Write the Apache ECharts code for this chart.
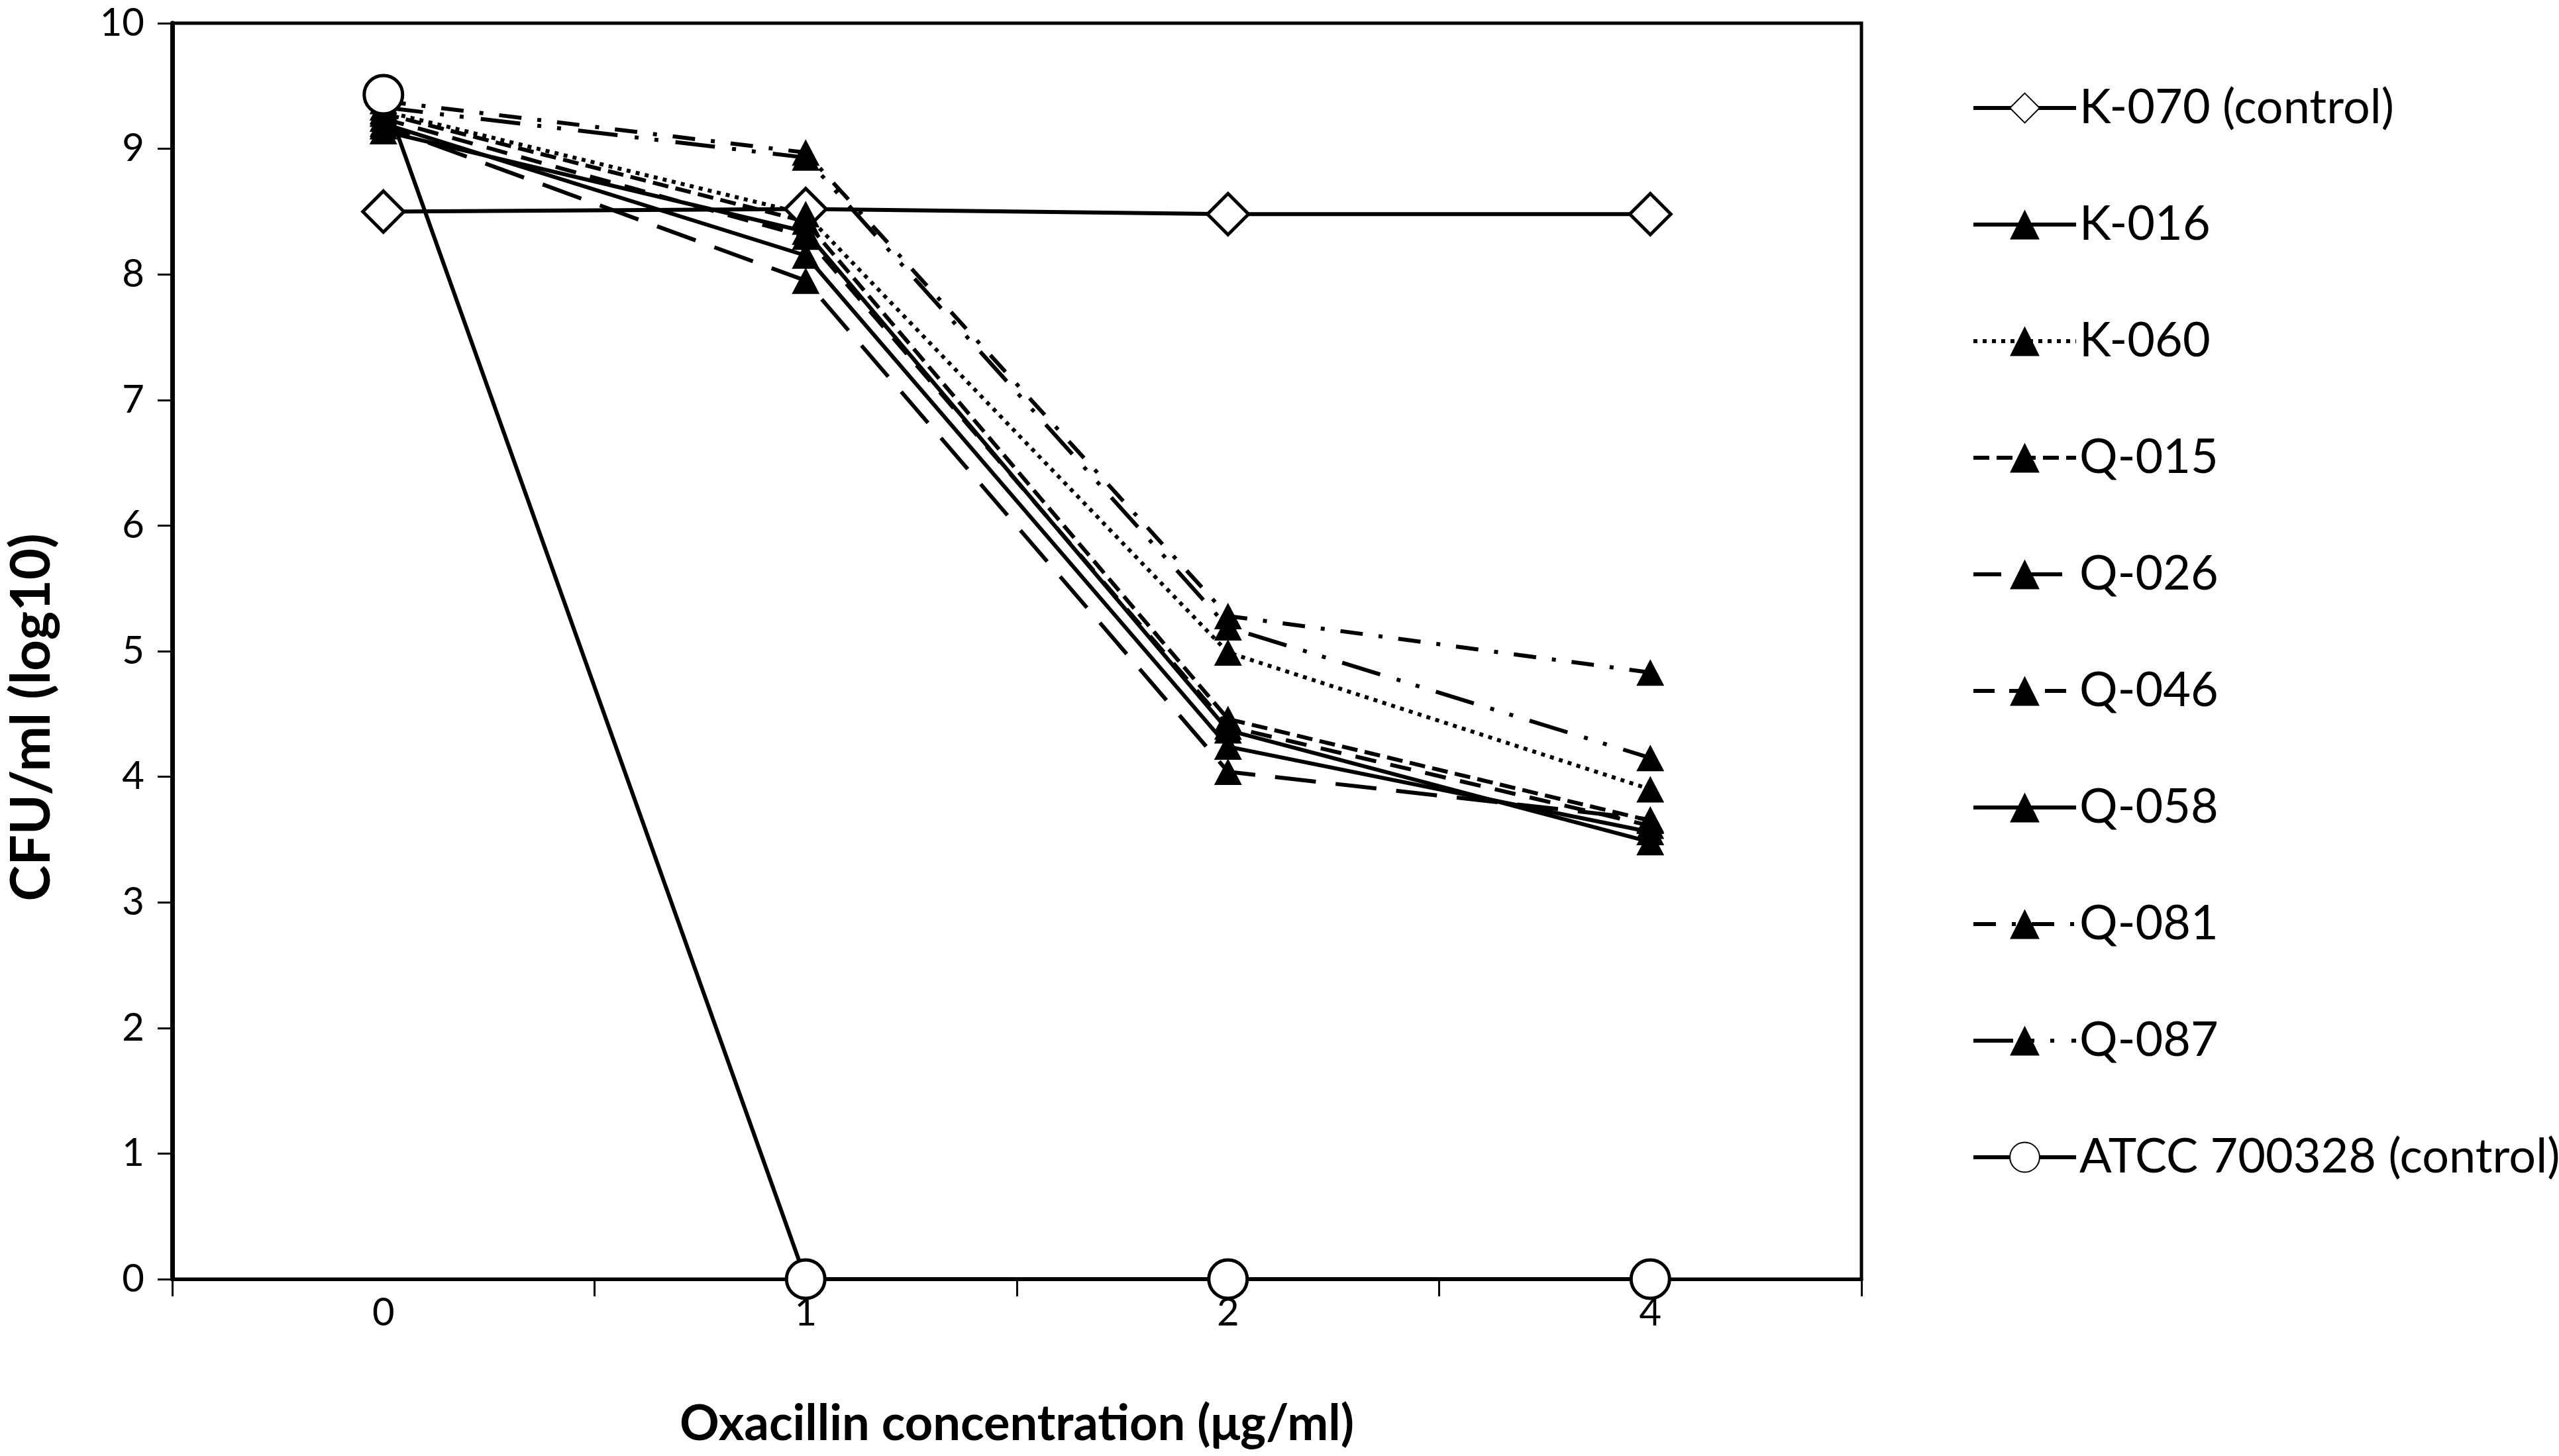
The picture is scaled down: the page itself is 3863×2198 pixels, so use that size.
<!DOCTYPE html>
<html>
<head>
<meta charset="utf-8">
<script src="https://cdn.jsdelivr.net/npm/echarts@6/dist/echarts.min.js"></script>
<style>
	html, body { margin: 0; padding: 0; background: #fff; }
	#main { width: 3863px; height: 2198px; }
</style>
</head>
<body>
<div id="main"></div>
<script>
// categories (oxacillin, µg/ml)
const concentrations = ['0', '1', '2', '4'];
const yTicks = [0, 10, 1];

// log10 CFU/ml per strain
const k070 = [8.50, 8.52, 8.48, 8.48];
const k016 = [9.20, 8.15, 4.24, 3.56];
const k060 = [9.30, 8.48, 4.99, 3.90];
const q015 = [9.28, 8.42, 4.46, 3.65];
const q026 = [9.18, 7.95, 4.04, 3.66];
const q046 = [9.24, 8.30, 4.40, 3.61];
const q058 = [9.14, 8.34, 4.37, 3.48];
const q081 = [9.38, 8.97, 5.28, 4.83];
const q087 = [9.33, 8.93, 5.19, 4.15];
const atcc = [9.43, 0, 0, 0];

const seriesNames = ['K-070 (control)', 'K-016', 'K-060', 'Q-015', 'Q-026', 'Q-046', 'Q-058', 'Q-081', 'Q-087', 'ATCC 700328 (control)'];

const font = 'Lato, Carlito, Calibri, "Open Sans", sans-serif';

// one line series, black, with a given marker and dash
function makeSeries(name, data, symbol, size, dash, hollow, offset) {
	return {
		name: name,
		type: 'line',
		data: data,
		symbol: symbol,
		symbolSize: size,
		showAllSymbol: true,
		lineStyle: { color: '#000', width: 6, type: dash, dashOffset: offset || 0 },
		itemStyle: { color: hollow ? '#fff' : '#000', borderColor: '#000', borderWidth: hollow ? 5 : 0 },
		emphasis: { disabled: true },
		animation: false
	};
}

const myChart = echarts.init(document.getElementById('main'));

let option = {
	backgroundColor: '#fff',
	textStyle: { fontFamily: font, color: '#000' },
	grid: {
		left: 259, right: 1053, top: 35, bottom: 267,
		show: true, borderColor: '#000', borderWidth: 5, backgroundColor: 'transparent'
	},
	legend: {
		orient: 'vertical',
		left: 2971,
		top: 122,
		itemWidth: 155,
		itemHeight: 56,
		itemGap: 104,
		data: seriesNames,
		lineStyle: { width: 6 },
		textStyle: { fontFamily: font, fontSize: 72, color: '#000' },
		selectedMode: false
	},
	xAxis: {
		type: 'category',
		data: concentrations,
		boundaryGap: true,
		name: 'Oxacillin concentration (\u03bcg/ml)',
		nameLocation: 'middle',
		nameGap: 182,
		nameTextStyle: { fontFamily: font, fontSize: 74, fontWeight: 'bold', color: '#000' },
		axisLine: { lineStyle: { color: '#000', width: 5 } },
		axisTick: { show: true, alignWithLabel: false, length: 26, lineStyle: { color: '#000', width: 3 } },
		axisLabel: { fontFamily: font, fontSize: 58, color: '#000', margin: 22 },
		splitLine: { show: false }
	},
	yAxis: {
		type: 'value',
		min: yTicks[0],
		max: yTicks[1],
		interval: yTicks[2],
		name: 'CFU/ml (log10)',
		nameLocation: 'middle',
		nameRotate: 90,
		nameGap: 170,
		nameTextStyle: { fontFamily: font, fontSize: 82, fontWeight: 'bold', color: '#000', padding: [0, 200, 0, 0] },
		axisLine: { show: true, lineStyle: { color: '#000', width: 7 } },
		axisTick: { show: true, length: 22, lineStyle: { color: '#000', width: 3 } },
		axisLabel: { fontFamily: font, fontSize: 58, color: '#000', margin: 42 },
		splitLine: { show: false }
	},
	series: [
		makeSeries(seriesNames[0], k070, 'diamond', 62, 'solid', true),
		makeSeries(seriesNames[1], k016, 'triangle', [42, 40], 'solid', false),
		makeSeries(seriesNames[2], k060, 'triangle', [42, 40], [6, 8], false),
		makeSeries(seriesNames[3], q015, 'triangle', [42, 40], [24, 11], false),
		makeSeries(seriesNames[4], q026, 'triangle', [42, 40], [62, 30], false, 20),
		makeSeries(seriesNames[5], q046, 'triangle', [42, 40], [32, 22], false),
		makeSeries(seriesNames[6], q058, 'triangle', [42, 40], 'solid', false),
		makeSeries(seriesNames[7], q081, 'triangle', [42, 40], [34, 24, 6, 24], false),
		makeSeries(seriesNames[8], q087, 'triangle', [42, 40], [60, 26, 6, 24, 6, 26], false),
		makeSeries(seriesNames[9], atcc, 'circle', 58, 'solid', true)
	]
};

myChart.setOption(option);
</script>
</body>
</html>
